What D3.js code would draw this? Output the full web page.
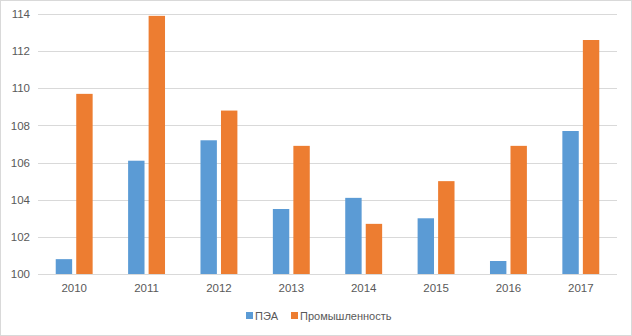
<!DOCTYPE html>
<html>
<head>
<meta charset="utf-8">
<script src="https://cdn.jsdelivr.net/npm/d3@7"></script>
<style>
  html, body { margin: 0; padding: 0; background: #fff; }
  svg { display: block; font-family: "Liberation Sans", "DejaVu Sans", sans-serif; }
</style>
</head>
<body>
<svg id="chart" width="632" height="336"></svg>
<script>
// Annual indices, previous year = 100
const years = ["2010", "2011", "2012", "2013", "2014", "2015", "2016", "2017"];
const seriesNames = ["ПЭА", "Промышленность"];
const peaValues = [100.8, 106.1, 107.2, 103.5, 104.1, 103.0, 100.7, 107.7];
const industryValues = [109.7, 113.9, 108.8, 106.9, 102.7, 105.0, 106.9, 112.6];
const yTicks = [100, 102, 104, 106, 108, 110, 112, 114];
const colors = ["#5B9BD5", "#ED7D31"];

const W = 632, H = 336;
const margin = { top: 14, right: 15, bottom: 62, left: 38 };

const svg = d3.select("#chart");

// chart border
svg.append("rect")
  .attr("x", 0.5).attr("y", 0.5)
  .attr("width", W - 1).attr("height", H - 1)
  .attr("fill", "#fff").attr("stroke", "#D9D9D9");

const x0 = d3.scaleBand()
  .domain(years)
  .range([margin.left, W - margin.right])
  .paddingInner(0.49)
  .paddingOuter(0.245);

const x1 = d3.scaleBand()
  .domain(seriesNames)
  .range([0, x0.bandwidth()])
  .paddingInner(0.2);

const y = d3.scaleLinear()
  .domain([100, 114])
  .range([H - margin.bottom, margin.top]);

// horizontal gridlines
svg.append("g")
  .selectAll("line")
  .data(yTicks)
  .join("line")
  .attr("x1", margin.left)
  .attr("x2", W - margin.right)
  .attr("y1", d => Math.round(y(d)) + 0.5)
  .attr("y2", d => Math.round(y(d)) + 0.5)
  .attr("stroke", "#D9D9D9")
  .attr("stroke-width", 1);

// y axis labels
const yAxis = d3.axisLeft(y).tickValues(yTicks).tickSize(0).tickPadding(8);
const gy = svg.append("g")
  .attr("transform", `translate(${margin.left},0)`)
  .call(yAxis);
gy.select(".domain").remove();
gy.selectAll("text")
  .attr("fill", "#595959")
  .attr("font-size", 11.5)
  .attr("font-family", "'Liberation Sans', sans-serif");

// bars
const data = years.map((yr, i) => ({
  year: yr,
  values: [
    { key: seriesNames[0], value: peaValues[i] },
    { key: seriesNames[1], value: industryValues[i] }
  ]
}));

svg.append("g")
  .selectAll("g")
  .data(data)
  .join("g")
  .attr("transform", d => `translate(${x0(d.year)},0)`)
  .selectAll("rect")
  .data(d => d.values)
  .join("rect")
  .attr("x", d => x1(d.key))
  .attr("width", x1.bandwidth())
  .attr("y", d => y(d.value))
  .attr("height", d => y(100) - y(d.value))
  .attr("fill", (d, i) => colors[i]);

// baseline
svg.append("line")
  .attr("x1", margin.left)
  .attr("x2", W - margin.right)
  .attr("y1", Math.round(y(100)) + 0.5)
  .attr("y2", Math.round(y(100)) + 0.5)
  .attr("stroke", "#D9D9D9");

// x axis labels
const xAxis = d3.axisBottom(x0).tickSize(0).tickPadding(10);
const gx = svg.append("g")
  .attr("transform", `translate(0,${y(100)})`)
  .call(xAxis);
gx.select(".domain").remove();
gx.selectAll("text")
  .attr("fill", "#595959")
  .attr("font-size", 11.5)
  .attr("font-family", "'Liberation Sans', sans-serif");

// legend
const legend = svg.append("g").attr("transform", "translate(0,316)");
const legendX = [246, 291];
seriesNames.forEach((name, i) => {
  const g = legend.append("g").attr("transform", `translate(${legendX[i]},0)`);
  g.append("rect")
    .attr("x", 0).attr("y", -4)
    .attr("width", 7).attr("height", 7)
    .attr("fill", colors[i]);
  g.append("text")
    .attr("x", 9).attr("y", 0)
    .attr("dy", "0.35em")
    .attr("fill", "#595959")
    .attr("font-size", 11)
    .text(name);
});
</script>
</body>
</html>
